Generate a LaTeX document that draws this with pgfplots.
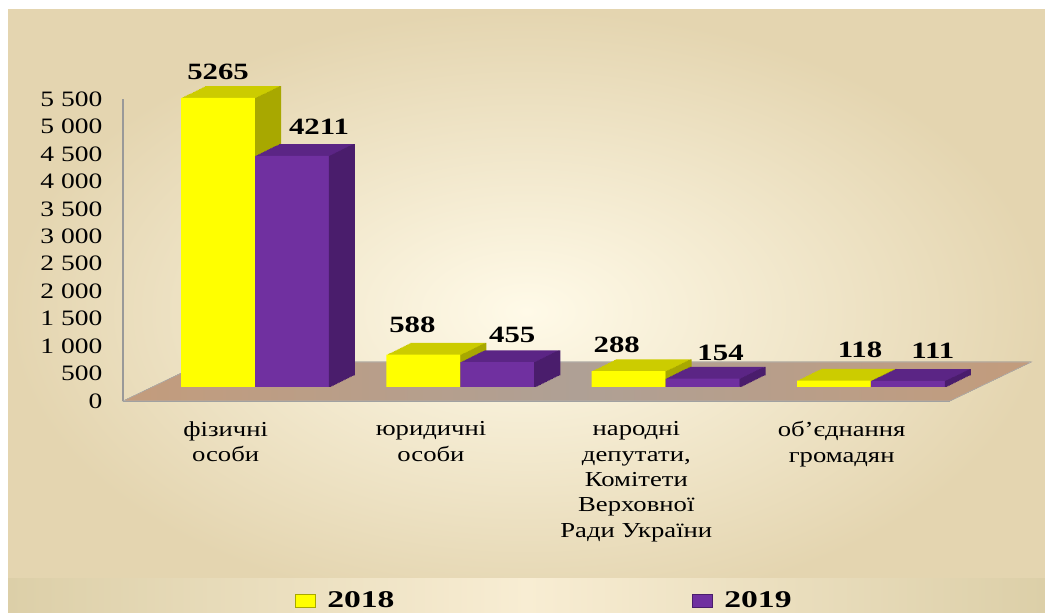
\documentclass[border=0pt]{standalone}
\usepackage{pgfplots}
\pgfplotsset{compat=1.18}
\usepackage{pgfplotstable}
\usepackage{fontspec}
\setmainfont{Liberation Serif}[FakeStretch=1.25]
\newfontfamily\legfont{Liberation Serif}[FakeStretch=1.4]
\newfontfamily\numfont{Liberation Serif}[FakeStretch=1.32]

\definecolor{yfront}{HTML}{FFFF00}
\definecolor{ytop}{HTML}{CCCC00}
\definecolor{yside}{HTML}{A8A800}
\definecolor{pfront}{HTML}{7030A0}
\definecolor{ptop}{HTML}{5B2585}
\definecolor{pside}{HTML}{4A1D6C}
\definecolor{bgin}{HTML}{FFFAE8}
\definecolor{bgout}{HTML}{E4D5B0}
\definecolor{bandside}{HTML}{DCCFA8}
\definecolor{bandmid}{HTML}{F8EDD3}
\definecolor{floortan}{HTML}{C39C7C}
\definecolor{floorgray}{HTML}{AFA095}

\pgfplotstableread{
x y lab dx dy
0 5265 5265 -27.7 19.5
1 588 588 -35.95 22.5
2 288 288 -36.7 19.5
3 118 118 -8.2 22.9
}\tA
\pgfplotstableread{
x y lab dx dy
0 4211 4211 47.95 21.75
1 455 455 38.95 20.25
2 154 154 41.2 19.1
3 111 111 46.45 22.5
}\tB

\tikzset{
  cp/.style 2 args={preaction={fill=#1, transform canvas={shift={({18pt*#2},{8.8pt*#2})}}}},
  depth/.style={cp={#1}{1},cp={#1}{0.9375},cp={#1}{0.875},cp={#1}{0.8125},
    cp={#1}{0.75},cp={#1}{0.6875},cp={#1}{0.625},cp={#1}{0.5625},
    cp={#1}{0.5},cp={#1}{0.4375},cp={#1}{0.375},cp={#1}{0.3125},
    cp={#1}{0.25},cp={#1}{0.1875},cp={#1}{0.125},cp={#1}{0.0625}},
}

\begin{document}
\begin{tikzpicture}
\useasboundingbox (0,0) rectangle (783.75pt,459.75pt);
\fill[white] (0,0) rectangle (783.75pt,459.75pt);
\fill[inner color=bgin, outer color=bgout] (6pt,0) rectangle (783.75pt,452.25pt);
\fill[left color=bandside, right color=bandside, middle color=bandmid] (6pt,0) rectangle (783.75pt,25.5pt);
\begin{axis}[
  at={(92.25pt,159pt)}, anchor=south west,
  scale only axis, width=620.25pt, height=226.5pt,
  xmin=-0.643, xmax=3.385, ymin=-255, ymax=5245,
  clip=false,
  axis y line*=left, axis x line*=bottom,
  axis line style={-, draw=gray!80, line width=0.8pt},
  major tick length=0pt,
  ytick={-255,245,...,5245},
  yticklabels={0,500,1 000,1 500,2 000,2 500,3 000,3 500,4 000,4 500,5 000,5 500},
  yticklabel style={font=\fontsize{16.5}{19}\selectfont, anchor=east, xshift=-12pt},
  xtick={0,1,2,3},
  xticklabels={{фізичні\\особи},{юридичні\\особи},{народні\\депутати,\\Комітети\\Верховної\\Ради України},{об’єднання\\громадян}},
  xticklabel style={font=\fontsize{16}{19}\selectfont, align=center, anchor=north, xshift=-22pt, yshift=-12pt},
  legend columns=2,
  legend style={draw=none, fill=none, at={(0.5097,-0.662)}, anchor=center,
    font=\legfont\bfseries\fontsize{18}{20}\selectfont,
    /tikz/every odd column/.append style={column sep=7pt},
    /tikz/every even column/.append style={column sep=221pt}},
  every node near coord/.append style={text=black, anchor=center, xshift=\dx pt, yshift=\dy pt,
    font=\numfont\bfseries\fontsize{17.5}{20}\selectfont},
]
\fill[left color=floortan, right color=floortan, middle color=floorgray, draw=gray!60]
  (rel axis cs:0,0) -- (rel axis cs:1,0) -- ([shift={(61pt,29.25pt)}]rel axis cs:1,0)
  -- ([shift={(61pt,29.25pt)}]rel axis cs:0,0) -- cycle;
\addlegendimage{legend image code/.code={\fill[yfront, draw=yside] (0pt,-4.9pt) rectangle (15pt,4.9pt);}}
\addlegendentry{2018}
\addlegendimage{legend image code/.code={\fill[pfront, draw=pside] (0pt,-4.9pt) rectangle (15pt,4.9pt);}}
\addlegendentry{2019}
% 2018 front + top
\addplot[forget plot, ybar, bar width=0.36, bar shift=-0.18, fill=yfront, draw=none, depth=ytop,
  nodes near coords, point meta=explicit symbolic,
  visualization depends on={\thisrow{dx} \as \dx},
  visualization depends on={\thisrow{dy} \as \dy}]
  table[x=x, y=y, meta=lab] {\tA};
% 2018 side
\addplot[forget plot, ybar, bar width=0.01, bar shift=0.005, fill=yside, draw=none, depth=yside]
  table[x=x, y=y] {\tA};
% 2019 front + top
\addplot[forget plot, ybar, bar width=0.36, bar shift=0.18, fill=pfront, draw=none, depth=ptop,
  nodes near coords, point meta=explicit symbolic,
  visualization depends on={\thisrow{dx} \as \dx},
  visualization depends on={\thisrow{dy} \as \dy}]
  table[x=x, y=y, meta=lab] {\tB};
% 2019 side
\addplot[forget plot, ybar, bar width=0.01, bar shift=0.365, fill=pside, draw=none, depth=pside]
  table[x=x, y=y] {\tB};
\end{axis}
\end{tikzpicture}
\end{document}
